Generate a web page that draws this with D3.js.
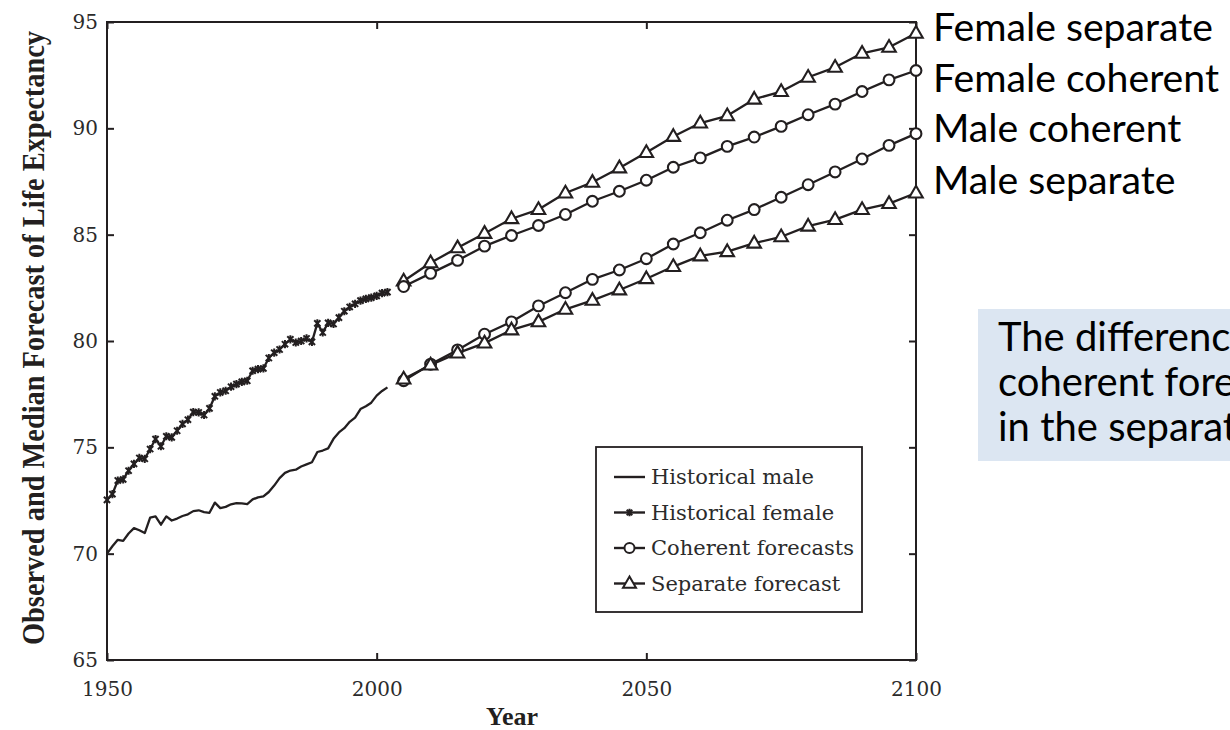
<!DOCTYPE html>
<html>
<head>
<meta charset="utf-8">
<script src="https://cdn.jsdelivr.net/npm/d3@7"></script>
<style>
  html, body { margin: 0; padding: 0; background: #ffffff; overflow: hidden; }
  svg { display: block; }
</style>
</head>
<body>
<svg id="chart" width="1230" height="730"></svg>
<script>
// Observed life expectancy (yearly, 1950-2002)
const histYears = d3.range(1950, 2003);
const histMale = [
  70.00, 70.35, 70.65, 70.60, 70.95, 71.20, 71.10, 70.97, 71.69, 71.75,
  71.36, 71.75, 71.56, 71.65, 71.77, 71.85, 72.00, 72.04, 71.95, 71.92,
  72.40, 72.14, 72.20, 72.32, 72.38, 72.36, 72.33, 72.55, 72.65, 72.69,
  72.90, 73.20, 73.55, 73.80, 73.91, 73.95, 74.10, 74.20, 74.30, 74.78,
  74.85, 74.95, 75.40, 75.70, 75.90, 76.20, 76.40, 76.80, 76.93, 77.10,
  77.43, 77.65, 77.82
];
const histFemale = [
  72.53, 72.80, 73.44, 73.49, 73.90, 74.22, 74.50, 74.46, 74.92, 75.39,
  75.05, 75.52, 75.47, 75.78, 76.10, 76.30, 76.66, 76.64, 76.52, 76.83,
  77.40, 77.58, 77.66, 77.85, 77.97, 78.08, 78.13, 78.60, 78.68, 78.71,
  79.20, 79.45, 79.60, 79.85, 80.08, 79.93, 80.00, 80.12, 79.96, 80.83,
  80.40, 80.85, 80.80, 81.10, 81.40, 81.60, 81.75, 81.90, 81.98, 82.04,
  82.12, 82.25, 82.30
];

// Median forecasts, every five years 2005-2100
const forecastYears = d3.range(2005, 2101, 5);
const femaleSeparate = [
  82.82, 83.68, 84.38, 85.06, 85.75, 86.18, 86.96, 87.46, 88.14, 88.86,
  89.62, 90.25, 90.59, 91.37, 91.73, 92.40, 92.87, 93.53, 93.81, 94.47
];
const femaleCoherent = [
  82.56, 83.18, 83.79, 84.46, 84.96, 85.43, 85.95, 86.57, 87.04, 87.56,
  88.17, 88.61, 89.15, 89.59, 90.09, 90.64, 91.14, 91.73, 92.28, 92.72
];
const maleCoherent = [
  78.13, 78.91, 79.58, 80.32, 80.90, 81.65, 82.27, 82.90, 83.34, 83.87,
  84.56, 85.09, 85.68, 86.18, 86.76, 87.35, 87.95, 88.56, 89.20, 89.75
];
const maleSeparate = [
  78.21, 78.87, 79.43, 79.90, 80.52, 80.90, 81.49, 81.91, 82.40, 82.93,
  83.50, 84.00, 84.20, 84.60, 84.90, 85.40, 85.71, 86.18, 86.46, 86.96
];

// Axis ticks and labels
const xTicks = [1950, 2000, 2050, 2100];
const yTicks = [65, 70, 75, 80, 85, 90, 95];
const legendLabels = ["Historical male", "Historical female", "Coherent forecasts", "Separate forecast"];
const endLabels = ["Female separate", "Female coherent", "Male coherent", "Male separate"];
const noteLines = [
  "The difference between the sexes in the",
  "coherent forecasts is smaller than",
  "in the separate forecasts"
];

const INK = "#231f20";
const SERIF = "'DejaVu Serif', serif";
const SANS = "Lato, 'Open Sans', sans-serif";

const svg = d3.select("#chart");
const plot = { left: 107, right: 916, top: 22, bottom: 660 };

const x = d3.scaleLinear().domain([1950, 2100]).range([plot.left, plot.right]);
const y = d3.scaleLinear().domain([65, 95]).range([plot.bottom, plot.top]);

// Frame
svg.append("rect")
  .attr("x", plot.left).attr("y", plot.top)
  .attr("width", plot.right - plot.left).attr("height", plot.bottom - plot.top)
  .attr("fill", "none").attr("stroke", INK).attr("stroke-width", 2);

// Axes with inward ticks on all four sides
function styleAxis(g) {
  g.select(".domain").remove();
  g.selectAll(".tick line").attr("stroke", INK).attr("stroke-width", 2);
  g.selectAll(".tick text")
    .attr("fill", "#2b2b2b")
    .style("font-family", SERIF)
    .style("font-size", "20px");
}
svg.append("g").attr("transform", `translate(0,${plot.bottom})`)
  .call(d3.axisBottom(x).tickValues(xTicks).tickFormat(d3.format("d")).tickSizeInner(-7).tickSizeOuter(0).tickPadding(22))
  .call(styleAxis);
svg.append("g").attr("transform", `translate(0,${plot.top})`)
  .call(d3.axisTop(x).tickValues(xTicks).tickFormat("").tickSizeInner(-7).tickSizeOuter(0))
  .call(styleAxis);
svg.append("g").attr("transform", `translate(${plot.left},0)`)
  .call(d3.axisLeft(y).tickValues(yTicks).tickFormat(d3.format("d")).tickSizeInner(-7).tickSizeOuter(0).tickPadding(9))
  .call(styleAxis);
svg.append("g").attr("transform", `translate(${plot.right},0)`)
  .call(d3.axisRight(y).tickValues(yTicks).tickFormat("").tickSizeInner(-7).tickSizeOuter(0))
  .call(styleAxis);

// Axis titles
svg.append("text")
  .attr("x", 512).attr("y", 725)
  .attr("text-anchor", "middle")
  .attr("fill", INK)
  .style("font-family", "'Liberation Serif', serif")
  .style("font-weight", "bold")
  .style("font-size", "26px")
  .text("Year");

svg.append("text")
  .attr("transform", "translate(44,338) rotate(-90)")
  .attr("text-anchor", "middle")
  .attr("fill", INK)
  .attr("textLength", 614)
  .attr("lengthAdjust", "spacingAndGlyphs")
  .style("font-family", "'Liberation Serif', serif")
  .style("font-weight", "bold")
  .style("font-size", "32px")
  .text("Observed and Median Forecast of Life Expectancy");

// Marker shapes
const triPath = (s) => {
  const h = s * 0.866;
  return `M0,${-h * 0.62}L${s / 2},${h * 0.38}L${-s / 2},${h * 0.38}Z`;
};
const starPath = (r) => `M${-r},${-r}L${r},${r}M${-r},${r}L${r},${-r}M0,${-r - 1}L0,${r + 1}`;

const line = d3.line().x(d => x(d[0])).y(d => y(d[1]));
const zipSeries = (years, vals) => years.map((yr, i) => [yr, vals[i]]);

const g = svg.append("g");

// Historical male: plain line
g.append("path")
  .datum(zipSeries(histYears, histMale))
  .attr("d", line).attr("fill", "none")
  .attr("stroke", INK).attr("stroke-width", 2.3).attr("stroke-linejoin", "round");

// Historical female: line with small star marks
const fem = zipSeries(histYears, histFemale);
g.append("path")
  .datum(fem)
  .attr("d", line).attr("fill", "none")
  .attr("stroke", INK).attr("stroke-width", 2.3).attr("stroke-linejoin", "round");
g.selectAll(".fstar").data(fem).join("path")
  .attr("class", "fstar")
  .attr("transform", d => `translate(${x(d[0])},${y(d[1])})`)
  .attr("d", starPath(3.1))
  .attr("fill", "none").attr("stroke", INK).attr("stroke-width", 2);

// Forecast series
const forecasts = [
  { vals: femaleSeparate, shape: "tri" },
  { vals: femaleCoherent, shape: "circle" },
  { vals: maleCoherent, shape: "circle" },
  { vals: maleSeparate, shape: "tri" }
];
forecasts.forEach(f => {
  const pts = zipSeries(forecastYears, f.vals);
  g.append("path")
    .datum(pts)
    .attr("d", line).attr("fill", "none")
    .attr("stroke", INK).attr("stroke-width", 2.3).attr("stroke-linejoin", "round");
  const m = g.append("g").selectAll("g").data(pts).join("g")
    .attr("transform", d => `translate(${x(d[0])},${y(d[1])})`);
  if (f.shape === "circle") {
    m.append("circle").attr("r", 5.4)
      .attr("fill", "#fff").attr("stroke", INK).attr("stroke-width", 2.1);
  } else {
    m.append("path").attr("d", triPath(13.5))
      .attr("fill", "#fff").attr("stroke", INK).attr("stroke-width", 2.1).attr("stroke-linejoin", "miter");
  }
});

// Legend
const lg = svg.append("g");
lg.append("rect")
  .attr("x", 596).attr("y", 447).attr("width", 266).attr("height", 165)
  .attr("fill", "#fff").attr("stroke", INK).attr("stroke-width", 1.8);
const rowY = [477, 512.5, 548, 583.5];
legendLabels.forEach((lab, i) => {
  const ry = rowY[i];
  lg.append("line").attr("x1", 614).attr("x2", 645).attr("y1", ry).attr("y2", ry)
    .attr("stroke", INK).attr("stroke-width", 2.4);
  if (i === 1) {
    lg.append("path").attr("transform", `translate(629.5,${ry})`).attr("d", starPath(2.8))
      .attr("fill", "none").attr("stroke", INK).attr("stroke-width", 2);
  } else if (i === 2) {
    lg.append("circle").attr("cx", 629.5).attr("cy", ry).attr("r", 5)
      .attr("fill", "#fff").attr("stroke", INK).attr("stroke-width", 2);
  } else if (i === 3) {
    lg.append("path").attr("transform", `translate(629.5,${ry})`).attr("d", triPath(13))
      .attr("fill", "#fff").attr("stroke", INK).attr("stroke-width", 2);
  }
  lg.append("text")
    .attr("x", 651).attr("y", ry).attr("dy", "0.35em")
    .attr("fill", "#2b2b2b")
    .style("font-family", SERIF)
    .style("font-size", "21px")
    .text(lab);
});

// Series names at the right-hand end of the forecasts
const endG = svg.append("g");
const endY = [27, 78, 128, 180];
const endTexts = endG.selectAll("text").data(endLabels).join("text")
  .attr("x", 933).attr("y", (d, i) => endY[i]).attr("dy", "0.36em")
  .attr("fill", "#000")
  .style("font-family", SANS)
  .style("font-size", "40px")
  .text(d => d);
const probe = endTexts.nodes()[0].getComputedTextLength();
const endSize = 40 * 280 / probe;
endTexts.style("font-size", endSize + "px");

// Note box
const note = svg.append("g");
note.append("rect")
  .attr("x", 978).attr("y", 309).attr("width", 270).attr("height", 152)
  .attr("fill", "#dce6f2");
const noteY = [337, 382, 427];
note.selectAll("text").data(noteLines).join("text")
  .attr("x", 998).attr("y", (d, i) => noteY[i]).attr("dy", "0.36em")
  .attr("fill", "#000")
  .style("font-family", SANS)
  .style("font-size", (endSize * 1.02) + "px")
  .text(d => d);
</script>
</body>
</html>
